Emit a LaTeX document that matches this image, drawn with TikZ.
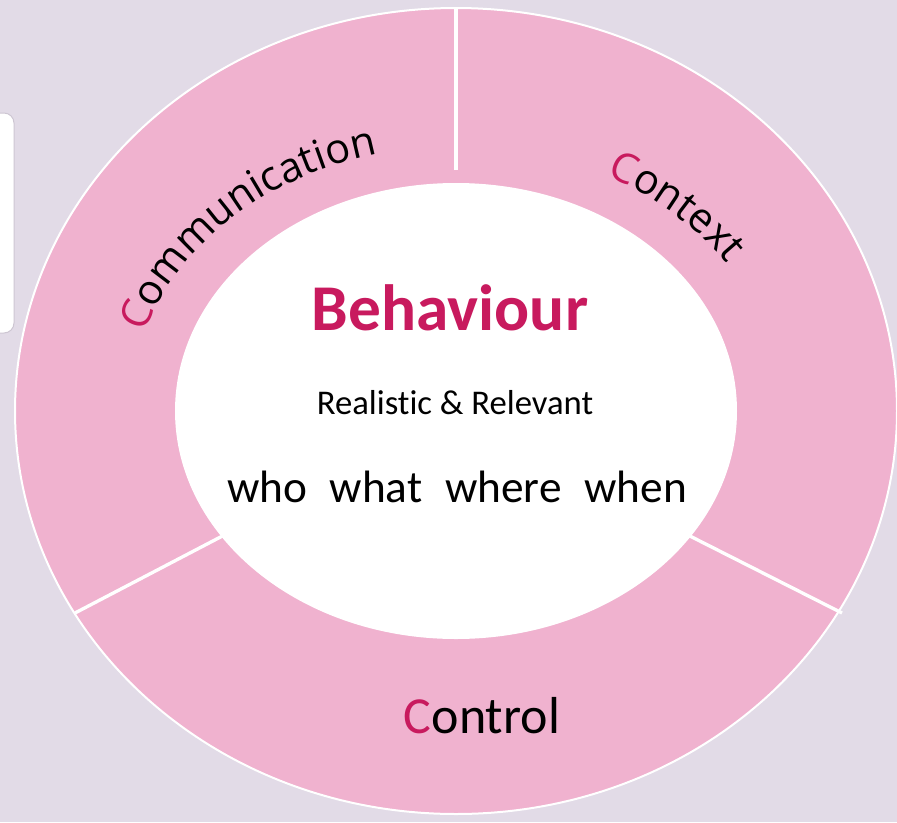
\documentclass[tikz,border=0pt]{standalone}
\usepackage{fontspec}
\setmainfont{Carlito}[Ligatures=NoCommon]
\newfontfamily\ringfamily{Open Sans}
\usetikzlibrary{decorations.text}
\definecolor{bgLilac}{RGB}{226,219,231}
\definecolor{ringPink}{RGB}{240,178,207}
\definecolor{cMagenta}{RGB}{200,26,94}
\definecolor{cardLine}{RGB}{205,198,210}
\newcommand{\ringfont}{\ringfamily\fontsize{31pt}{32pt}\selectfont}

\begin{document}
\begin{tikzpicture}[x=0.75pt,y=0.75pt]
\useasboundingbox (0,0) rectangle (897,-822);

%Background
\fill[bgLilac] (0,0) rectangle (897,-822);
%Side card [id:card]
\draw[cardLine, fill=white, rounded corners=7.5pt, line width=0.75pt] (-30,-113) rectangle (14,-333);

%Outer ring [id:ring]
\draw[white, fill=ringPink, line width=1.5pt] (456,-411) ellipse [x radius=441, y radius=403];

%Divider ends
\coordinate (topIn) at (456,-170);
\coordinate (topOut) at (456,-8);
\coordinate (leftIn) at (232,-531);
\coordinate (leftOut) at (75,-613);
\coordinate (rightIn) at (680,-531);
\coordinate (rightOut) at (842,-613);

%Straight Lines [id:dividers]
\draw[white, line width=2.5pt] (topIn) -- (topOut);
\draw[white, line width=2.5pt] (leftIn) -- (leftOut);
\draw[white, line width=2.5pt] (rightIn) -- (rightOut);

%Inner ellipse [id:core]
\fill[white] (456,-411) ellipse [x radius=281, y radius=228];

%Curved Text [id:communication]
\path[decorate, decoration={text along path, text align=center,
  text={|\ringfont\color{cMagenta}|C|\ringfont\color{black}|ommunication}}]
  (456,-411) ++(181:326 and 265) arc [start angle=181, end angle=89, x radius=326, y radius=265];
%Curved Text [id:context]
\path[decorate, decoration={text along path, text align=center,
  text={|\ringfont\color{cMagenta}|C|\ringfont\color{black}|ontext}}]
  (456,-411) ++(78:326 and 265) arc [start angle=78, end angle=16, x radius=326, y radius=265];

% Text Node
\node[text=cMagenta, font=\bfseries\fontsize{49pt}{50pt}\selectfont, anchor=base] (behav) at (450,-330) {Behaviour};
% Text Node
\node[font=\fontsize{26pt}{28pt}\selectfont, anchor=base] (realrel) at (455,-414) {Realistic \& Relevant};
% Text Node
\node[font=\fontsize{34pt}{36pt}\selectfont, anchor=base] (wwww) at (457,-502) {who\hspace{17pt}what\hspace{17pt}where\hspace{17pt}when};
% Text Node
\node[font=\fontsize{39pt}{40pt}\selectfont, anchor=base] (control) at (482,-733) {\textcolor{cMagenta}{C}ontrol};

\end{tikzpicture}
\end{document}
